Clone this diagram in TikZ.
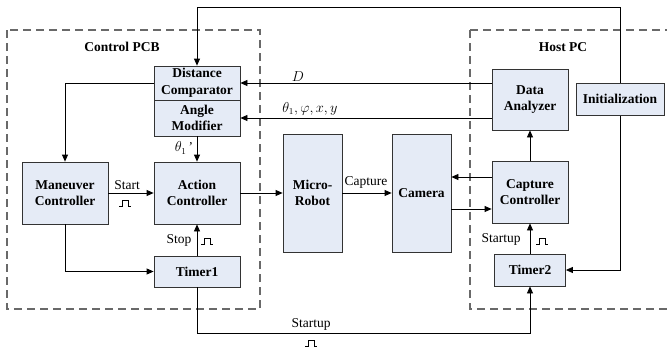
\documentclass[tikz,border=0pt]{standalone}
\usepackage{fontspec}
\setmainfont{Liberation Serif}
\usetikzlibrary{arrows.meta,calc}
\definecolor{boxfill}{RGB}{229,235,246}
\definecolor{dashgray}{RGB}{105,105,105}
\tikzset{
  box/.style={draw=black!80, fill=boxfill, line width=0.8pt, align=center, inner sep=0pt,
    font=\fontsize{13.5}{16.5}\selectfont\bfseries},
  arr/.style={-{Triangle[length=7pt,width=6pt]}, line width=0.8pt},
  lbl/.style={font=\fontsize{13.5}{16.5}\selectfont, inner sep=0pt},
  grp/.style={draw=dashgray, line width=1.1pt, dash pattern=on 8pt off 5pt},
  grplbl/.style={font=\fontsize{13.5}{16.5}\selectfont\bfseries, inner sep=0pt},
  pulse/.pic={\draw[line width=0.8pt] (-6,3)--(-3,3)--(-3,-3)--(3,-3)--(3,3)--(6,3);}
}
\begin{document}
\begin{tikzpicture}[x=1pt,y=-1pt]
\useasboundingbox (0,0) rectangle (667,351);
% groups
\draw[grp] (7,30) rectangle (260,309);
\draw[grp] (470,30) -- (680,30) (470,30) -- (470,309) -- (680,309);
\node[grplbl] (pcb) at (122,47) {Control PCB};
\node[grplbl] (host) at (563,47) {Host PC};
% boxes
\node[box, minimum width=86pt, minimum height=34pt] (dc) at (197,83) {Distance\\Comparator};
\node[box, minimum width=86pt, minimum height=36pt] (am) at (197,118) {Angle\\Modifier};
\node[box, minimum width=86pt, minimum height=62pt] (mc) at (65,193) {Maneuver\\Controller};
\node[box, minimum width=86pt, minimum height=62pt] (ac) at (197,193) {Action\\Controller};
\node[box, minimum width=86pt, minimum height=31pt] (t1) at (197,271.5) {Timer1};
\node[box, minimum width=59pt, minimum height=118pt] (mr) at (312.5,193) {Micro-\\Robot};
\node[box, minimum width=59pt, minimum height=118pt] (cam) at (421.5,193) {Camera};
\node[box, minimum width=76pt, minimum height=61pt] (da) at (530,99.5) {Data\\Analyzer};
\node[box, minimum width=76pt, minimum height=62pt] (cc) at (530,192) {Capture\\Controller};
\node[box, minimum width=71pt, minimum height=32pt] (t2) at (530,270) {Timer2};
% init line behind init box
\draw[arr] (620,83) -- (620,7) -| (dc.north);
\draw[arr] (620,115) |- (t2.east);
\node[box, minimum width=88pt, minimum height=32pt] (init) at (620,99) {Initialization};
% connectors
\draw[arr] (da.west |- dc.east) -- (dc.east);
\draw[arr] (da.west |- am.east) -- (am.east);
\draw[arr] (dc.west) -| (mc.north);
\draw[arr] (am.south) -- (ac.north);
\draw[arr] (mc.east) -- (ac.west);
\draw[arr] (ac.east) -- (mr.west);
\draw[arr] (mr.east) -- (cam.west);
\path ($(cc.west)+(0,-15)$) coordinate (p1);
\path ($(cc.west)+(0,17)$) coordinate (p2);
\draw[arr] (p1) -- (p1 -| cam.east);
\draw[arr] (p2 -| cam.east) -- (p2);
\draw[arr] (cc.north) -- (da.south);
\draw[arr] (t2.north) -- (cc.south);
\draw[arr] (t1.north) -- (ac.south);
\draw[arr] (mc.south) |- (t1.west);
\draw[arr] (t1.south) -- ++(0,46) -| (t2.south);
% labels
\node[lbl] (ld) at (298,77) {$D$};
\node[lbl] (lth) at (310,109) {$\theta_1,\varphi,x,y$};
\node[lbl] (lth1) at (184,148) {$\theta_1$\,'};
\node[lbl] (lstart) at (127,185) {Start};
\pic at (125,203) {pulse};
\node[lbl] (lstop) at (179,240) {Stop};
\pic at (207,241) {pulse};
\node[lbl] (lcap) at (366,182) {Capture};
\node[lbl] (lsu2) at (501,239) {Startup};
\pic at (542,241) {pulse};
\node[lbl] (lsu1) at (311,324) {Startup};
\pic at (311,343) {pulse};
\end{tikzpicture}
\end{document}
